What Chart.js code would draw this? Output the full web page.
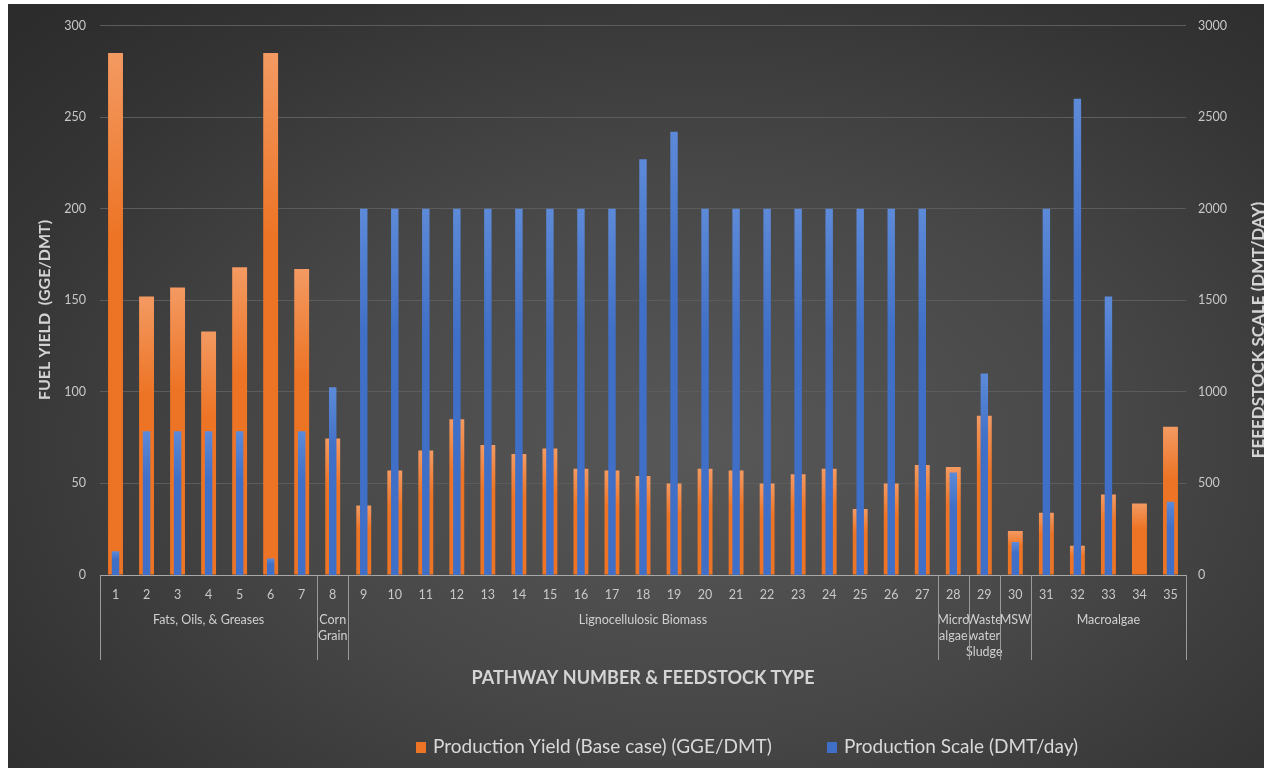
<!DOCTYPE html>
<html>
<head>
<meta charset="utf-8">
<script src="https://cdn.jsdelivr.net/npm/chart.js@4.4.1/dist/chart.umd.min.js"></script>
<style>
  html, body { margin: 0; padding: 0; background: #ffffff; }
  #wrap {
    position: absolute; left: 8px; top: 4px; width: 1256px; height: 764px;
    background: radial-gradient(ellipse 75% 80% at 55% 58%, #585858 0%, #474747 45%, #343434 80%, #2c2c2c 100%);
  }
  #chart { position: absolute; left: 0; top: 0; }
  #legend { position: absolute; left: 0; top: 731px; width: 100%; height: 22px;
    font: 19px Lato, "Open Sans", sans-serif; color: #d9d9d9; white-space: nowrap; }
  #legend .item { position: absolute; top: 0; line-height: 22px; }
  #legend .box { display: inline-block; width: 10px; height: 11px; margin-right: 7px; vertical-align: 0px; }
</style>
</head>
<body>
<div id="wrap">
  <canvas id="chart" width="1256" height="764"></canvas>
  <div id="legend"></div>
</div>
<script>
const FONT = 'Lato, "Open Sans", sans-serif';

// pathway numbers 1..35
const pathways = ['1','2','3','4','5','6','7','8','9','10','11','12','13','14','15','16','17','18',
  '19','20','21','22','23','24','25','26','27','28','29','30','31','32','33','34','35'];

// Production Yield (Base case) (GGE/DMT) - left axis
const yieldValues = [285, 152, 157, 133, 168, 285, 167, 74.5, 38, 57, 68, 85, 71, 66, 69, 58, 57, 54,
  50, 58, 57, 50, 55, 58, 36, 50, 60, 59, 87, 24, 34, 16, 44, 39, 81];

// Production Scale (DMT/day) - right axis
const scaleValues = [130, 785, 785, 785, 785, 90, 785, 1025, 2000, 2000, 2000, 2000, 2000, 2000, 2000, 2000, 2000, 2270,
  2420, 2000, 2000, 2000, 2000, 2000, 2000, 2000, 2000, 560, 1100, 180, 2000, 2600, 1520, 0, 400];

// feedstock groups (second level of the x axis)
const groupNames = [['Fats, Oils, & Greases'], ['Corn', 'Grain'], ['Lignocellulosic Biomass'],
  ['Micro', 'algae'], ['Waste', 'water', 'Sludge'], ['MSW'], ['Macroalgae']];
const groupSizes = [7, 1, 19, 1, 1, 1, 5];

const yieldTicks = [0, 50, 100, 150, 200, 250, 300];
const scaleTicks = [0, 500, 1000, 1500, 2000, 2500, 3000];

const ORANGE = { light: '#f39a62', dark: '#ed7425' };
const BLUE = { light: '#5d8ad8', dark: '#3f6fc6' };

function barGradient(ctx, c) {
  if (ctx.type !== 'data') return c.dark;
  const chart = ctx.chart;
  const scale = chart.scales[ctx.dataset.yAxisID];
  if (!chart.chartArea || !scale) return c.dark;
  const top = scale.getPixelForValue(ctx.raw);
  const bottom = scale.getPixelForValue(0);
  if (!(bottom - top > 1)) return c.dark;
  const g = chart.ctx.createLinearGradient(0, top, 0, bottom);
  g.addColorStop(0, c.light);
  g.addColorStop(0.35, c.dark);
  g.addColorStop(1, c.dark);
  return g;
}

// draws the feedstock group row, separators and axis titles
const groupAxis = {
  id: 'groupAxis',
  afterDraw(chart) {
    const { ctx, chartArea } = chart;
    const x = chart.scales.x;
    const bottom = chartArea.bottom;
    const edge = (i) => {
      if (i <= 0) return chartArea.left;
      if (i >= pathways.length) return chartArea.right;
      return (x.getPixelForValue(i - 1) + x.getPixelForValue(i)) / 2;
    };

    ctx.save();
    ctx.strokeStyle = '#9a9a9a';
    ctx.lineWidth = 1;
    ctx.fillStyle = '#d0d0d0';
    ctx.font = '12.5px ' + FONT;
    ctx.textAlign = 'center';
    ctx.textBaseline = 'middle';

    let start = 0;
    const bounds = [0];
    groupSizes.forEach((n, gi) => {
      const end = start + n;
      bounds.push(end);
      const cx = (edge(start) + edge(end)) / 2;
      groupNames[gi].forEach((line, li) => {
        ctx.fillText(line, cx, bottom + 45 + li * 16);
      });
      start = end;
    });
    bounds.forEach(b => {
      const px = Math.round(edge(b)) + 0.5;
      ctx.beginPath();
      ctx.moveTo(px, bottom);
      ctx.lineTo(px, bottom + 85);
      ctx.stroke();
    });

    // axis titles
    ctx.fillStyle = '#d4d4d4';
    ctx.font = 'bold 18px ' + FONT;
    ctx.fillText('PATHWAY NUMBER & FEEDSTOCK TYPE', (chartArea.left + chartArea.right) / 2, 674);

    ctx.font = 'bold 16px ' + FONT;
    ctx.translate(37, 306);
    ctx.rotate(-Math.PI / 2);
    ctx.fillText('FUEL YIELD  (GGE/DMT)', 0, 0);
    ctx.setTransform(1, 0, 0, 1, 0, 0);

    ctx.font = 'bold 17px ' + FONT;
    ctx.translate(1251, 326);
    ctx.rotate(-Math.PI / 2);
    ctx.fillText('FEEEDSTOCK SCALE (DMT/DAY)', 0, 0);
    ctx.restore();
  }
};

const datasets = [
  {
    label: 'Production Yield (Base case) (GGE/DMT)',
    data: yieldValues,
    yAxisID: 'y',
    backgroundColor: ctx => barGradient(ctx, ORANGE),
    barPercentage: 0.48,
    categoryPercentage: 1,
    grouped: false,
    order: 2,
  },
  {
    label: 'Production Scale (DMT/day)',
    data: scaleValues,
    yAxisID: 'y1',
    backgroundColor: ctx => barGradient(ctx, BLUE),
    barPercentage: 0.24,
    categoryPercentage: 1,
    grouped: false,
    order: 1,
  },
];

new Chart(document.getElementById('chart').getContext('2d'), {
  type: 'bar',
  data: { labels: pathways, datasets },
  options: {
    responsive: false,
    animation: false,
    layout: { padding: { top: 15, left: 0, right: 0, bottom: 0 } },
    plugins: {
      legend: { display: false },
      tooltip: { enabled: false },
    },
    scales: {
      x: {
        grid: { display: false },
        border: { color: '#a8a8a8', width: 1 },
        ticks: { color: '#c8c8c8', font: { family: FONT, size: 12.5 }, padding: 4, maxRotation: 0, autoSkip: false },
        afterFit: s => { s.height = 193; },
      },
      y: {
        position: 'left',
        min: 0, max: 300,
        afterBuildTicks: s => { s.ticks = yieldTicks.map(v => ({ value: v })); },
        grid: { color: '#5c5c5c', drawTicks: false },
        border: { display: false },
        ticks: { color: '#c8c8c8', font: { family: FONT, size: 12.5 }, padding: 14, callback: v => String(v) },
        afterFit: s => { s.width = 92; },
      },
      y1: {
        position: 'right',
        min: 0, max: 3000,
        afterBuildTicks: s => { s.ticks = scaleTicks.map(v => ({ value: v })); },
        grid: { display: false, drawTicks: false },
        border: { display: false },
        ticks: { color: '#c8c8c8', font: { family: FONT, size: 12.5 }, padding: 12, callback: v => String(v) },
        afterFit: s => { s.width = 78; },
      },
    },
  },
  plugins: [groupAxis],
});

// legend, in dataset order
const legendPos = [408, 819];
const legend = document.getElementById('legend');
legend.innerHTML = [[datasets[0].label, ORANGE.dark], [datasets[1].label, BLUE.dark]]
  .map(([text, color], i) =>
    `<span class="item" style="left:${legendPos[i]}px"><span class="box" style="background:${color}"></span>${text}</span>`)
  .join('');
</script>
</body>
</html>
